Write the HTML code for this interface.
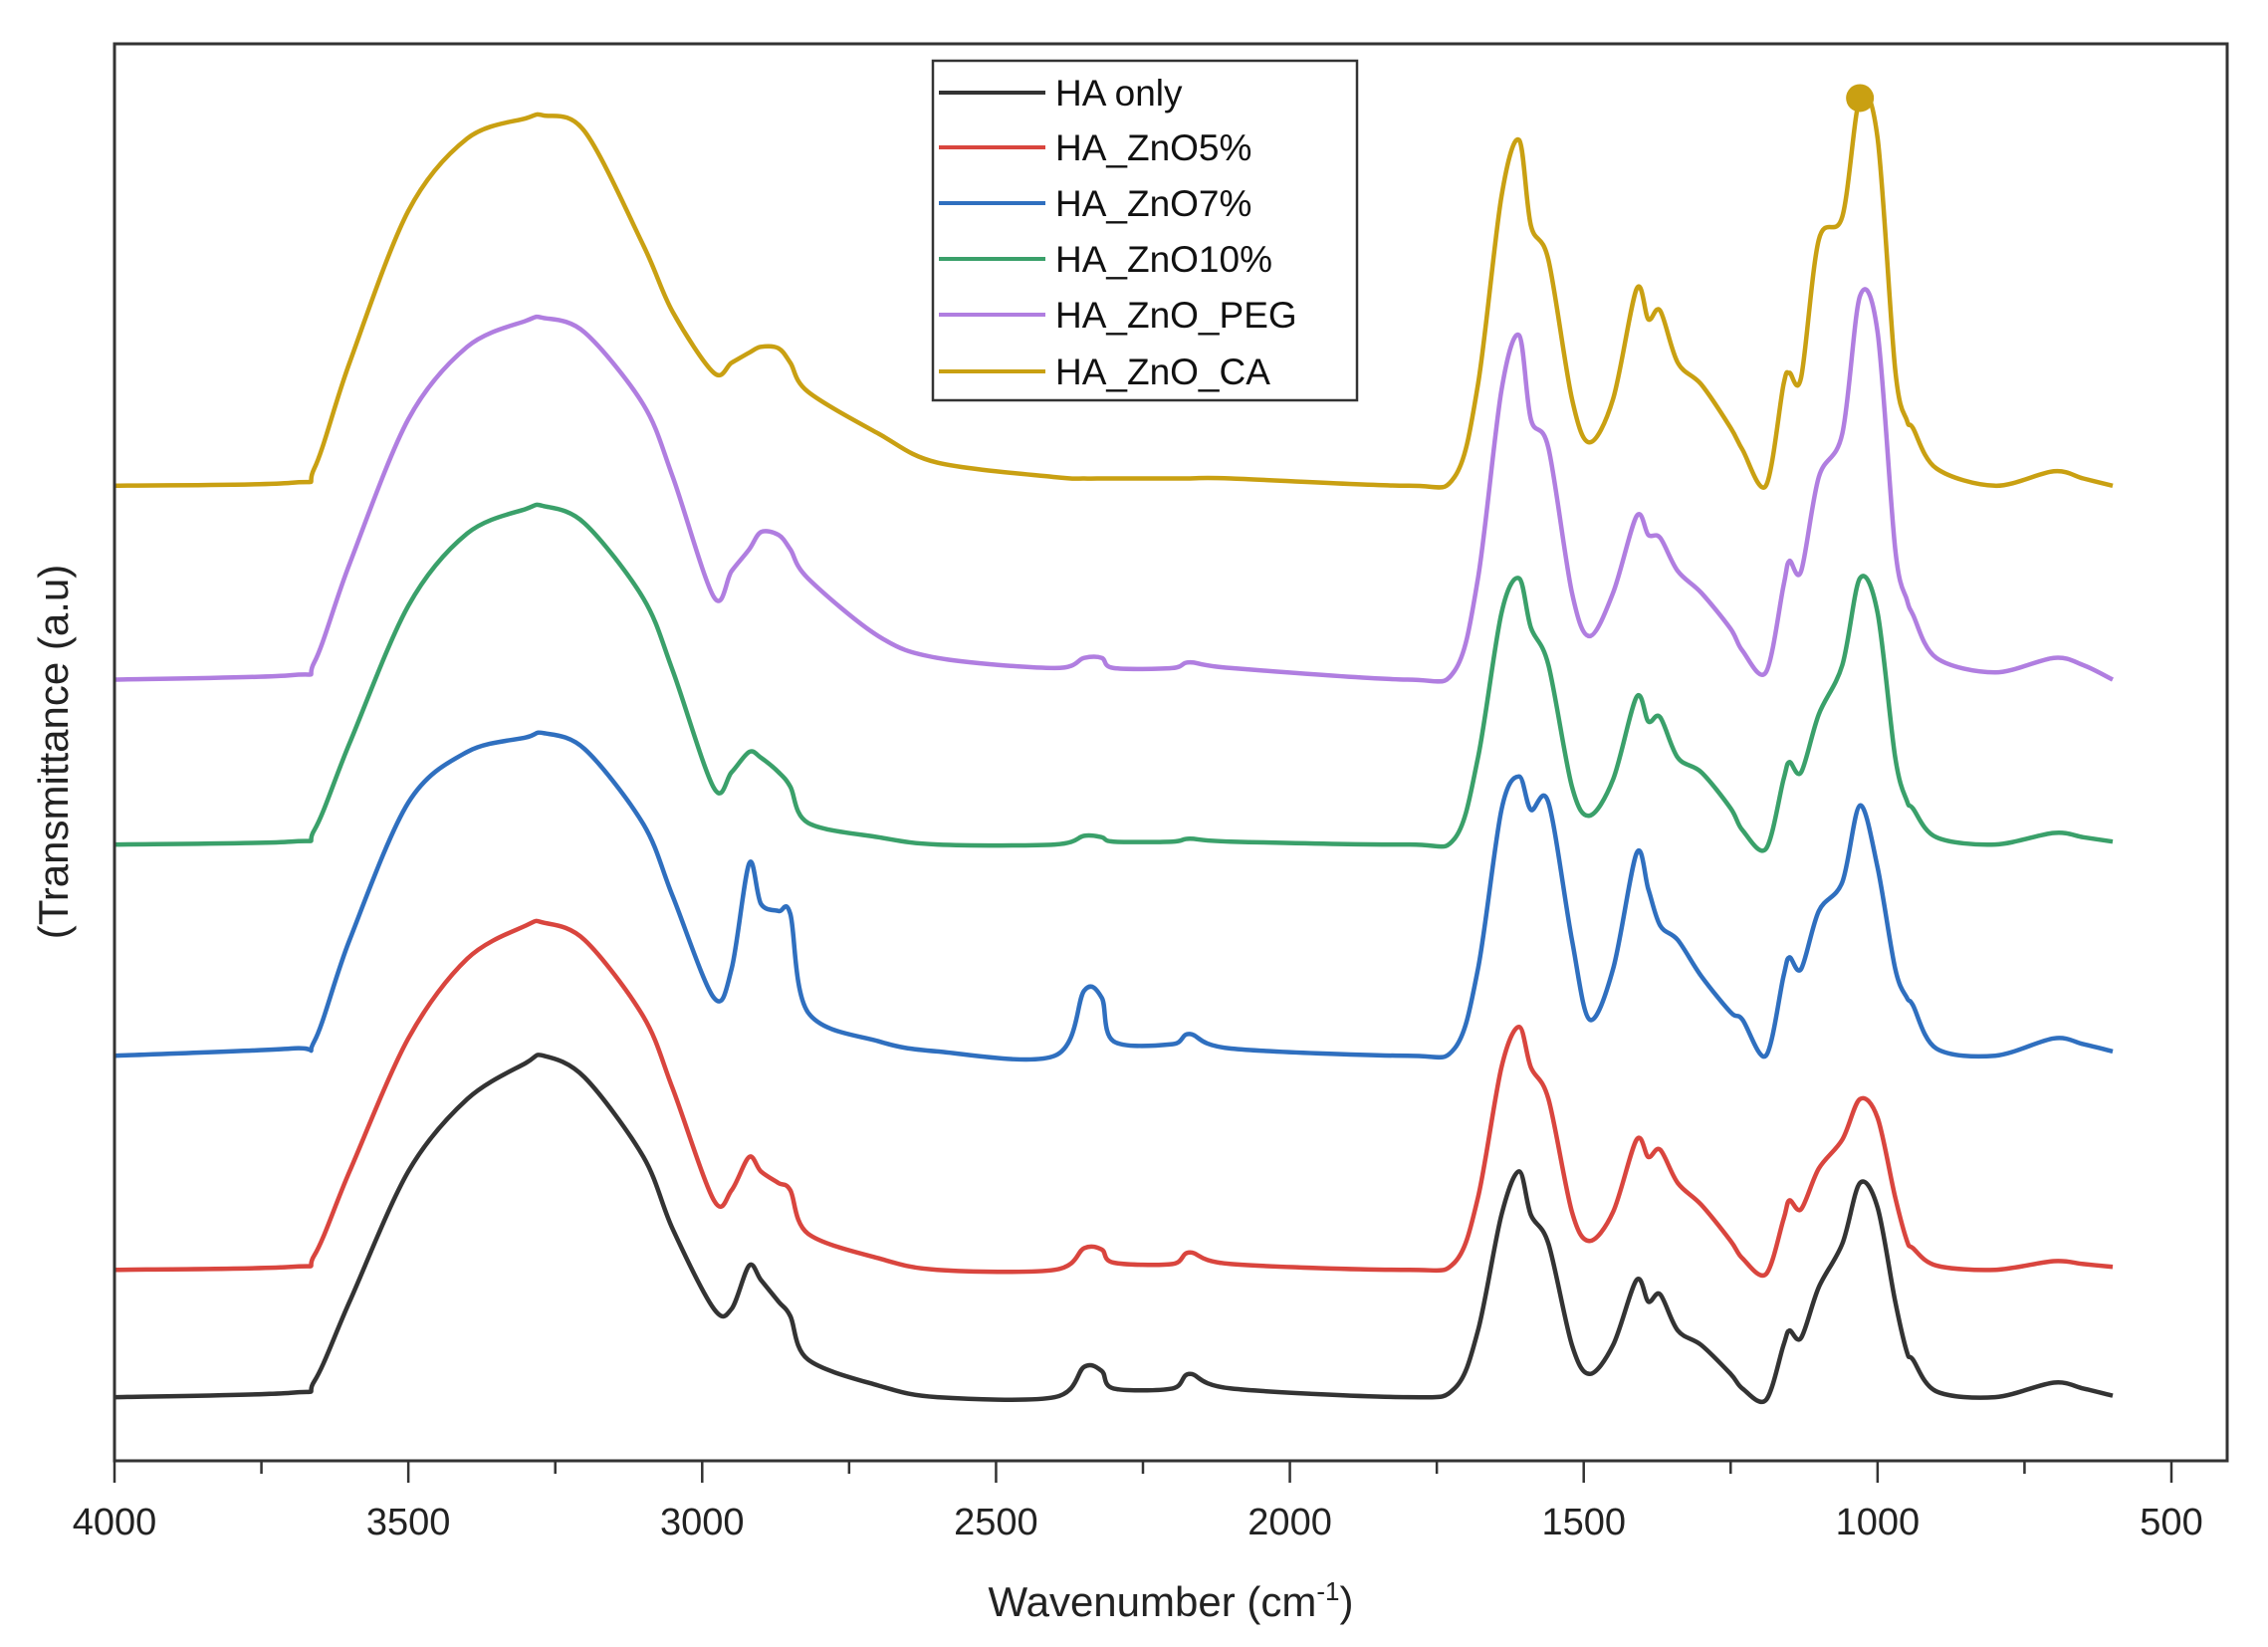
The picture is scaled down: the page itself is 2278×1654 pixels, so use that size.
<!DOCTYPE html>
<html><head><meta charset="utf-8"><style>
html,body{margin:0;padding:0;background:#fff;}
svg{display:block;font-family:"Liberation Sans",Arial,sans-serif;}
</style></head><body>
<svg id="chart" width="2278" height="1654" viewBox="0 0 2278 1654" xmlns="http://www.w3.org/2000/svg">
<rect width="2278" height="1654" fill="#fff"/>
<g id="series"></g>
<g id="axes"></g>
</svg>
<script>
const wavenumbers=[4000,3700,3660,3600,3500,3400,3300,3270,3200,3100,3050,2980,2950,2920,2900,2870,2850,2820,2700,2600,2400,2350,2320,2300,2200,2170,2100,1800,1720,1680,1640,1610,1590,1560,1520,1490,1450,1410,1390,1370,1340,1300,1250,1230,1190,1160,1150,1130,1100,1060,1030,1000,970,950,940,900,800,700,650,600];
const seriesNames=["HA only","HA_ZnO5%","HA_ZnO7%","HA_ZnO10%","HA_ZnO_PEG","HA_ZnO_CA"];
const offsets=[44,132,280,426,540,674];
const haOnly=[0,3,11,66,156,206,231,236,221,166,116,61,61,91,81,66,56,26,8,0,0,21,18,6,6,16,6,0,6,46,126,156,126,106,36,16,36,81,66,71,46,36,16,6,-2,36,46,41,76,106,148,131,66,31,26,4,0,10,6,1];
const zno5=[0,2,10,68,160,215,238,240,228,175,125,48,55,78,68,60,55,25,8,0,0,15,14,5,4,12,4,0,5,50,140,168,140,118,40,20,40,90,78,83,60,45,20,8,-3,35,48,42,70,90,118,105,50,20,15,3,0,6,4,2];
const zno7=[0,5,10,80,175,210,220,223,212,160,110,40,60,133,105,100,98,30,10,3,0,45,40,10,8,15,5,0,5,60,170,193,170,175,80,25,60,140,115,90,80,55,30,25,0,55,68,60,100,120,173,130,60,40,35,5,0,12,8,3];
const zno10=[0,2,10,70,165,215,232,234,222,170,120,39,50,64,60,50,40,15,5,0,0,6,5,2,2,4,2,0,4,60,160,184,150,124,40,20,45,102,85,88,60,50,25,10,-3,45,57,50,90,124,184,160,60,30,25,5,0,8,5,2];
const znoPeg=[0,3,12,80,180,230,248,250,240,190,140,57,75,90,102,100,90,70,30,15,8,15,15,8,8,12,8,0,6,70,200,238,180,160,60,30,60,113,100,98,75,60,35,20,5,65,82,75,140,170,265,240,90,55,45,15,5,15,10,0];
const znoCa=[0,2,12,85,190,240,254,256,245,166,120,78,85,92,96,95,85,65,36,16,6,5,5,5,5,5,5,0,6,70,200,239,180,156,60,30,60,136,115,121,85,70,40,25,0,70,78,75,170,186,268,240,80,45,40,12,0,10,5,0];
const xTicks=[4000,3500,3000,2500,2000,1500,1000,500];
const markerWavenumber=1030;

const NS="http://www.w3.org/2000/svg";
const X0=115,X1=2181,Ybot=1467,Ytop=44,Xr=2237;
function xs(w){return X0+(4000-w)*(X1-X0)/3500;}
function ys(v){return Ybot-v*1.4528;}
function smoothPath(pts){
  let d="M"+pts[0][0].toFixed(1)+","+pts[0][1].toFixed(1);
  for(let i=0;i<pts.length-1;i++){
    const p0=pts[Math.max(0,i-1)],p1=pts[i],p2=pts[i+1],p3=pts[Math.min(pts.length-1,i+2)];
    const k=0.16;
    const c1=[p1[0]+(p2[0]-p0[0])*k,p1[1]+(p2[1]-p0[1])*k];
    const c2=[p2[0]-(p3[0]-p1[0])*k,p2[1]-(p3[1]-p1[1])*k];
    d+="C"+c1[0].toFixed(1)+","+c1[1].toFixed(1)+" "+c2[0].toFixed(1)+","+c2[1].toFixed(1)+" "+p2[0].toFixed(1)+","+p2[1].toFixed(1);
  }
  return d;
}
const allSeries=[haOnly,zno5,zno7,zno10,znoPeg,znoCa];
const colors=["#333333","#d9453e","#2f6fbf","#3aa06a","#b07ee0","#c9a012"];
const slugs=["ha-only","ha-zno5","ha-zno7","ha-zno10","ha-zno-peg","ha-zno-ca"];
const sg=document.getElementById('series');
allSeries.forEach((arr,i)=>{
  const pts=arr.map((h,j)=>[xs(wavenumbers[j]),ys(offsets[i]+h)]);
  const p=document.createElementNS(NS,'path');
  p.setAttribute('d',smoothPath(pts));p.setAttribute('fill','none');p.setAttribute('stroke',colors[i]);
  p.setAttribute('stroke-width','4.5');p.setAttribute('stroke-linejoin','round');
  
  
  sg.appendChild(p);
});
const mi=wavenumbers.indexOf(markerWavenumber);
const dot=document.createElementNS(NS,'circle');
dot.setAttribute('cx',xs(markerWavenumber));dot.setAttribute('cy',ys(offsets[5]+znoCa[mi]));
dot.setAttribute('r','14');dot.setAttribute('fill','#c9a012');


sg.appendChild(dot);

const ag=document.getElementById('axes');
function el(tag,attrs,text){const e=document.createElementNS(NS,tag);for(const k in attrs)e.setAttribute(k,attrs[k]);if(text!==undefined)e.textContent=text;ag.appendChild(e);return e;}
const frame=el('rect',{x:X0,y:Ytop,width:Xr-X0,height:Ybot-Ytop,fill:'none',stroke:'#333','stroke-width':3});


for(let w=4000;w>=500;w-=250){
  const major=w%500===0;
  const t=el('line',{x1:xs(w),x2:xs(w),y1:Ybot,y2:Ybot+(major?22:13),stroke:'#333','stroke-width':2.5});
  
  
}
xTicks.forEach(w=>{
  const t=el('text',{x:xs(w),y:1541,'font-size':38,'text-anchor':'middle',fill:'#222'},String(w));
  
  
});
const xt=el('text',{x:1176,y:1623,'font-size':42,'text-anchor':'middle',fill:'#222'});


xt.innerHTML='Wavenumber (cm<tspan dy="-16" font-size="26">-1</tspan><tspan dy="16">)</tspan>';
const yt=el('text',{x:0,y:0,'font-size':42,'text-anchor':'middle',fill:'#222',transform:'translate(68,755) rotate(-90)'},'(Transmittance (a.u)');



const lg=el('rect',{x:937,y:61,width:426,height:341,fill:'#fff',stroke:'#333','stroke-width':2.5});


const ly=[93,148,204,260,316,373];
seriesNames.forEach((n,i)=>{
  const l=el('line',{x1:943,x2:1050,y1:ly[i],y2:ly[i],stroke:colors[i],'stroke-width':4});
  
  
  const t=el('text',{x:1060,y:ly[i]+13,'font-size':37,fill:'#111'},n);
  
  
});
</script>
</body></html>
